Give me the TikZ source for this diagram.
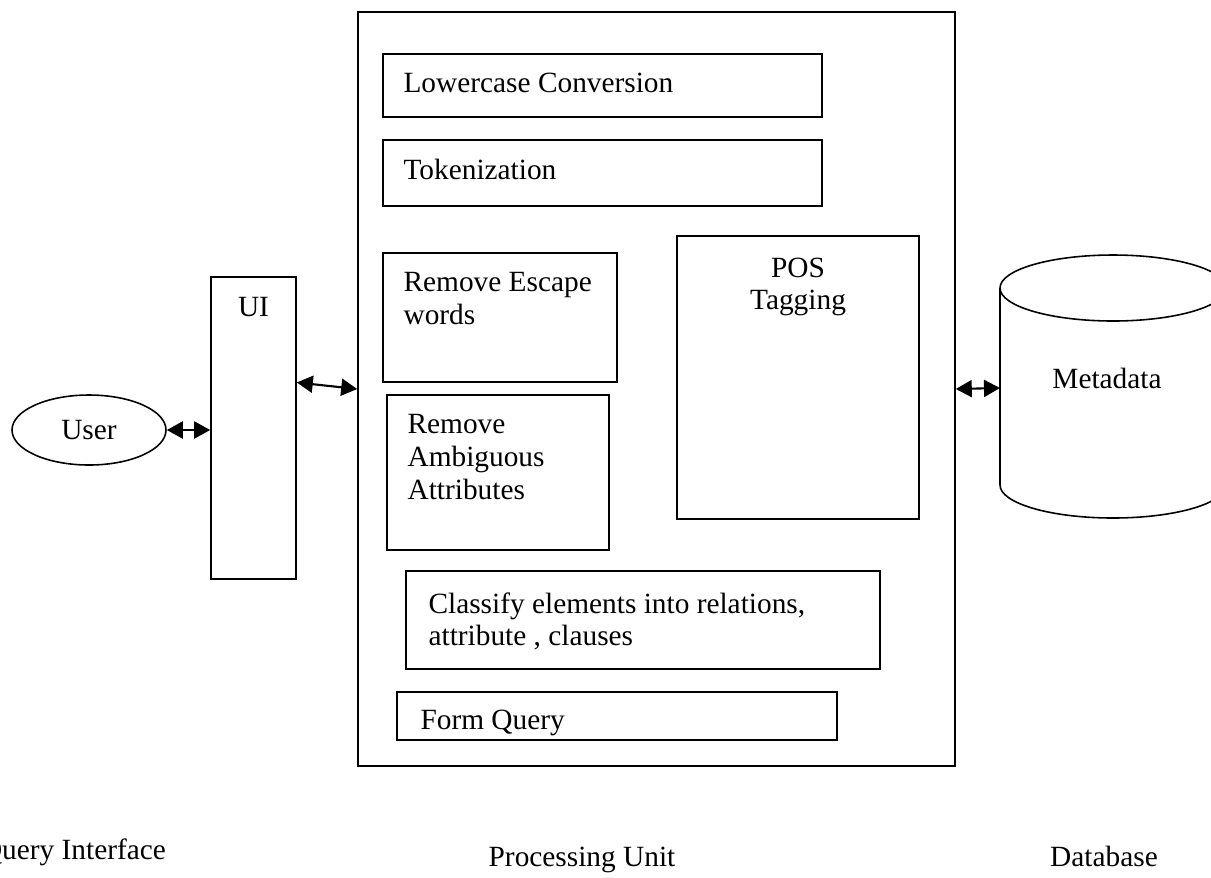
\documentclass[tikz,border=0pt]{standalone}
\usepackage{fontspec}
\setmainfont{Liberation Serif}
\usetikzlibrary{arrows.meta,positioning,shapes.geometric,calc}

\begin{document}
\begin{tikzpicture}[
    box/.style={draw, line width=0.9pt, inner sep=0pt},
    txt/.style={inner sep=0pt, align=left, font=\fontsize{16.7}{18.6}\selectfont},
    arr/.style={{Triangle[length=3.2mm,width=3.4mm]}-{Triangle[length=3.2mm,width=3.4mm]}, line width=1.2pt},
]
    \useasboundingbox (0,0) rectangle (24.22,-17.54);
    \clip (0,0) rectangle (24.22,-17.54);

    % processing unit
    \node[box, minimum width=11.94cm, minimum height=15.08cm] (proc)  at (13.13,-7.78) {};
    \node[box, minimum width=8.78cm,  minimum height=1.26cm]  (lower) at (12.05,-1.71) {};
    \node[box, minimum width=8.78cm,  minimum height=1.32cm]  (token) at (12.05,-3.46) {};
    \node[box, minimum width=4.68cm,  minimum height=2.58cm]  (esc)   at (10.00,-6.35) {};
    \node[box, minimum width=4.44cm,  minimum height=3.10cm]  (amb)   at ( 9.96,-9.45) {};
    \node[box, minimum width=4.84cm,  minimum height=5.66cm]  (pos)   at (15.96,-7.55) {};
    \node[box, minimum width=9.48cm,  minimum height=1.96cm]  (cls)   at (12.86,-12.40) {};
    \node[box, minimum width=8.80cm,  minimum height=0.96cm]  (form)  at (12.34,-14.32) {};

    \node[txt, below right=0.40cm and 0.42cm of lower.north west] (lowert) {Lowercase Conversion};
    \node[txt, below right=0.40cm and 0.42cm of token.north west] (tokent) {Tokenization};
    \node[txt, below right=0.40cm and 0.42cm of esc.north west]   (esct)   {Remove Escape\\words};
    \node[txt, below right=0.40cm and 0.42cm of amb.north west]   (ambt)   {Remove\\Ambiguous\\Attributes};
    \node[txt, align=center, below=0.44cm of pos.north]           (post)   {POS\\Tagging};
    \node[txt, below right=0.44cm and 0.46cm of cls.north west]   (clst)   {Classify elements into relations,\\attribute , clauses};
    \node[txt, below right=0.36cm and 0.48cm of form.north west]  (formt)  {Form Query};

    % query interface
    \node[box, minimum width=1.70cm, minimum height=6.04cm] (ui) at (5.07,-8.56) {};
    \node[txt, below=0.42cm of ui.north] (uit) {UI};
    \node[draw, ellipse, line width=0.9pt, minimum width=3.08cm, minimum height=1.40cm,
          font=\fontsize{16.7}{18.6}\selectfont] (user) at (1.78,-8.60) {User};

    % database
    \draw[line width=0.9pt] (22.26,-5.76) ellipse [x radius=2.26, y radius=0.66];
    \draw[line width=0.9pt] (20.00,-5.76) -- (20.00,-9.70)
        arc[start angle=180, end angle=360, x radius=2.26, y radius=0.66] -- (24.52,-5.76);
    \coordinate (meta) at (20.00,-7.76);
    \node[txt] (metat) at (22.14,-7.56) {Metadata};

    \draw[arr] (user.east) -- (ui.west |- user.east);
    \draw[arr] ($(ui.north east)!0.35!(ui.south east)$) -- (proc.west);
    \draw[arr] (proc.east) -- (meta);

    % captions
    \node[txt, anchor=base] (qcap) at ( 1.47,-17.18) {Query Interface};
    \node[txt, anchor=base] (pcap) at (11.64,-17.32) {Processing Unit};
    \node[txt, anchor=base] (dcap) at (22.08,-17.32) {Database};
\end{tikzpicture}
\end{document}
